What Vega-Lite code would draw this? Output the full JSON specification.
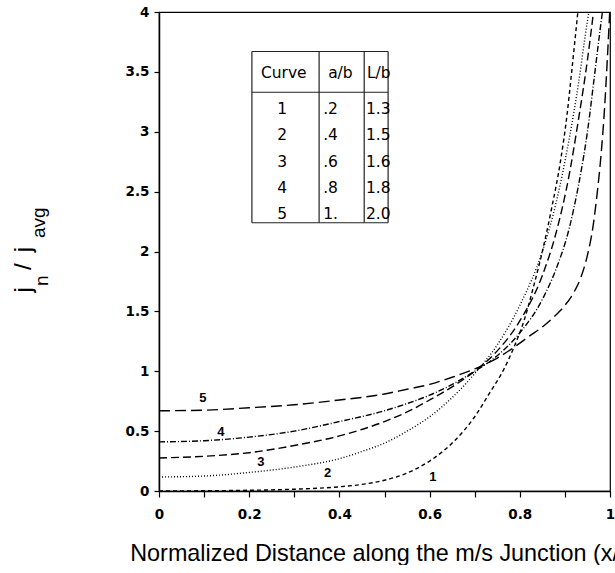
{
  "$schema": "https://vega.github.io/schema/vega-lite/v6.json",
  "width": 451,
  "height": 479,
  "autosize": {"type": "pad"},
  "padding": {"left": 11, "top": 5, "right": 0, "bottom": 0},
  "config": {
    "view": {"stroke": "black", "strokeWidth": 1.2},
    "font": "Liberation Sans"
  },
  "datasets": {
    "curves": [
      {"curve": "1", "x": 0, "y": 0.0}, {"curve": "1", "x": 0.1, "y": 0.002}, {"curve": "1", "x": 0.2, "y": 0.006}, {"curve": "1", "x": 0.3, "y": 0.015}, {"curve": "1", "x": 0.4, "y": 0.035}, {"curve": "1", "x": 0.45, "y": 0.055}, {"curve": "1", "x": 0.5, "y": 0.09}, {"curve": "1", "x": 0.55, "y": 0.15}, {"curve": "1", "x": 0.6, "y": 0.25}, {"curve": "1", "x": 0.65, "y": 0.4}, {"curve": "1", "x": 0.7, "y": 0.62}, {"curve": "1", "x": 0.73, "y": 0.8}, {"curve": "1", "x": 0.765, "y": 1.02}, {"curve": "1", "x": 0.787, "y": 1.2}, {"curve": "1", "x": 0.81, "y": 1.43}, {"curve": "1", "x": 0.83, "y": 1.7}, {"curve": "1", "x": 0.85, "y": 2.0}, {"curve": "1", "x": 0.87, "y": 2.35}, {"curve": "1", "x": 0.89, "y": 2.75}, {"curve": "1", "x": 0.905, "y": 3.15}, {"curve": "1", "x": 0.915, "y": 3.5}, {"curve": "1", "x": 0.93, "y": 4.05},
      {"curve": "2", "x": 0, "y": 0.117}, {"curve": "2", "x": 0.1, "y": 0.125}, {"curve": "2", "x": 0.2, "y": 0.155}, {"curve": "2", "x": 0.3, "y": 0.2}, {"curve": "2", "x": 0.4, "y": 0.27}, {"curve": "2", "x": 0.45, "y": 0.33}, {"curve": "2", "x": 0.5, "y": 0.4}, {"curve": "2", "x": 0.55, "y": 0.5}, {"curve": "2", "x": 0.6, "y": 0.62}, {"curve": "2", "x": 0.65, "y": 0.78}, {"curve": "2", "x": 0.7, "y": 0.98}, {"curve": "2", "x": 0.75, "y": 1.22}, {"curve": "2", "x": 0.8, "y": 1.55}, {"curve": "2", "x": 0.85, "y": 2.0}, {"curve": "2", "x": 0.88, "y": 2.4}, {"curve": "2", "x": 0.91, "y": 2.95}, {"curve": "2", "x": 0.93, "y": 3.4}, {"curve": "2", "x": 0.945, "y": 3.8}, {"curve": "2", "x": 0.955, "y": 4.05},
      {"curve": "3", "x": 0, "y": 0.276}, {"curve": "3", "x": 0.1, "y": 0.29}, {"curve": "3", "x": 0.2, "y": 0.32}, {"curve": "3", "x": 0.3, "y": 0.38}, {"curve": "3", "x": 0.4, "y": 0.46}, {"curve": "3", "x": 0.5, "y": 0.58}, {"curve": "3", "x": 0.55, "y": 0.66}, {"curve": "3", "x": 0.6, "y": 0.76}, {"curve": "3", "x": 0.65, "y": 0.87}, {"curve": "3", "x": 0.7, "y": 1.0}, {"curve": "3", "x": 0.75, "y": 1.17}, {"curve": "3", "x": 0.8, "y": 1.42}, {"curve": "3", "x": 0.85, "y": 1.8}, {"curve": "3", "x": 0.88, "y": 2.15}, {"curve": "3", "x": 0.91, "y": 2.65}, {"curve": "3", "x": 0.93, "y": 3.1}, {"curve": "3", "x": 0.95, "y": 3.6}, {"curve": "3", "x": 0.965, "y": 4.05},
      {"curve": "4", "x": 0, "y": 0.41}, {"curve": "4", "x": 0.1, "y": 0.42}, {"curve": "4", "x": 0.2, "y": 0.45}, {"curve": "4", "x": 0.3, "y": 0.5}, {"curve": "4", "x": 0.4, "y": 0.58}, {"curve": "4", "x": 0.5, "y": 0.67}, {"curve": "4", "x": 0.55, "y": 0.73}, {"curve": "4", "x": 0.6, "y": 0.8}, {"curve": "4", "x": 0.65, "y": 0.89}, {"curve": "4", "x": 0.7, "y": 1.0}, {"curve": "4", "x": 0.75, "y": 1.13}, {"curve": "4", "x": 0.8, "y": 1.32}, {"curve": "4", "x": 0.85, "y": 1.6}, {"curve": "4", "x": 0.88, "y": 1.85}, {"curve": "4", "x": 0.91, "y": 2.2}, {"curve": "4", "x": 0.93, "y": 2.55}, {"curve": "4", "x": 0.95, "y": 3.0}, {"curve": "4", "x": 0.965, "y": 3.45}, {"curve": "4", "x": 0.978, "y": 3.85}, {"curve": "4", "x": 0.985, "y": 4.05},
      {"curve": "5", "x": 0, "y": 0.67}, {"curve": "5", "x": 0.1, "y": 0.675}, {"curve": "5", "x": 0.2, "y": 0.695}, {"curve": "5", "x": 0.3, "y": 0.72}, {"curve": "5", "x": 0.4, "y": 0.76}, {"curve": "5", "x": 0.5, "y": 0.81}, {"curve": "5", "x": 0.55, "y": 0.85}, {"curve": "5", "x": 0.6, "y": 0.89}, {"curve": "5", "x": 0.65, "y": 0.95}, {"curve": "5", "x": 0.7, "y": 1.02}, {"curve": "5", "x": 0.75, "y": 1.11}, {"curve": "5", "x": 0.787, "y": 1.2}, {"curve": "5", "x": 0.82, "y": 1.29}, {"curve": "5", "x": 0.85, "y": 1.37}, {"curve": "5", "x": 0.88, "y": 1.47}, {"curve": "5", "x": 0.9, "y": 1.55}, {"curve": "5", "x": 0.92, "y": 1.66}, {"curve": "5", "x": 0.935, "y": 1.78}, {"curve": "5", "x": 0.95, "y": 1.97}, {"curve": "5", "x": 0.962, "y": 2.2}, {"curve": "5", "x": 0.972, "y": 2.5}, {"curve": "5", "x": 0.98, "y": 2.8}, {"curve": "5", "x": 0.988, "y": 3.2}, {"curve": "5", "x": 0.994, "y": 3.6}, {"curve": "5", "x": 1.0, "y": 4.05}
    ],
    "labels": [
      {"t": "1", "x": 0.607, "y": 0.12},
      {"t": "2", "x": 0.374, "y": 0.148},
      {"t": "3", "x": 0.226, "y": 0.245},
      {"t": "4", "x": 0.137, "y": 0.495},
      {"t": "5", "x": 0.097, "y": 0.774}
    ],
    "tableLines": [
      {"x": 0.206, "x2": 0.508, "y": 3.67, "y2": 3.67},
      {"x": 0.206, "x2": 0.508, "y": 3.33, "y2": 3.33},
      {"x": 0.206, "x2": 0.508, "y": 2.24, "y2": 2.24},
      {"x": 0.206, "x2": 0.206, "y": 2.24, "y2": 3.67},
      {"x": 0.355, "x2": 0.355, "y": 2.24, "y2": 3.67},
      {"x": 0.455, "x2": 0.455, "y": 2.24, "y2": 3.67},
      {"x": 0.508, "x2": 0.508, "y": 2.24, "y2": 3.67}
    ],
    "tableText": [
      {"t": "Curve", "x": 0.226, "y": 3.49},
      {"t": "a/b", "x": 0.375, "y": 3.49},
      {"t": "L/b", "x": 0.461, "y": 3.49},
      {"t": "1", "x": 0.262, "y": 3.19}, {"t": ".2", "x": 0.364, "y": 3.19}, {"t": "1.3", "x": 0.459, "y": 3.19},
      {"t": "2", "x": 0.262, "y": 2.97}, {"t": ".4", "x": 0.364, "y": 2.97}, {"t": "1.5", "x": 0.459, "y": 2.97},
      {"t": "3", "x": 0.262, "y": 2.75}, {"t": ".6", "x": 0.364, "y": 2.75}, {"t": "1.6", "x": 0.459, "y": 2.75},
      {"t": "4", "x": 0.262, "y": 2.53}, {"t": ".8", "x": 0.364, "y": 2.53}, {"t": "1.8", "x": 0.459, "y": 2.53},
      {"t": "5", "x": 0.262, "y": 2.31}, {"t": "1.", "x": 0.364, "y": 2.31}, {"t": "2.0", "x": 0.459, "y": 2.31}
    ],
    "ytitle": [
      {"t": "j", "part": "main", "x": -0.284, "y": 1.68},
      {"t": "n", "part": "sub", "x": -0.246, "y": 1.755},
      {"t": "/", "part": "main", "x": -0.284, "y": 1.874},
      {"t": "j", "part": "main", "x": -0.284, "y": 2.016},
      {"t": "avg", "part": "sub", "x": -0.253, "y": 2.241}
    ]
  },
  "layer": [
    {
      "data": {"name": "curves"},
      "mark": {"type": "line", "clip": true, "color": "black", "strokeWidth": 1.4, "interpolate": "monotone"},
      "encoding": {
        "x": {
          "field": "x", "type": "quantitative",
          "scale": {"domain": [0, 1], "nice": false, "zero": false},
          "axis": {
            "values": [0, 0.1, 0.2, 0.3, 0.4, 0.5, 0.6, 0.7, 0.8, 0.9, 1],
            "labelExpr": "round(datum.value*10)%2==0 ? format(datum.value,'~g') : ''",
            "grid": false, "tickSize": 6, "tickColor": "black", "tickWidth": 1.2,
            "domainColor": "black", "domainWidth": 1.5,
            "labelFont": "DejaVu Sans", "labelFontSize": 13.5, "labelFontWeight": "bold", "labelColor": "black",
            "labelPadding": 10, "labelFlush": false,
            "title": "Normalized Distance along the m/s Junction (x/b)",
            "titleFont": "Liberation Sans", "titleFontSize": 23.4, "titleFontWeight": "normal", "titleColor": "black",
            "titlePadding": 22
          }
        },
        "y": {
          "field": "y", "type": "quantitative",
          "scale": {"domain": [0, 4], "nice": false},
          "axis": {
            "values": [0, 0.5, 1, 1.5, 2, 2.5, 3, 3.5, 4],
            "format": "~g",
            "grid": false, "tickSize": 5, "tickColor": "black", "tickWidth": 1.2,
            "domainColor": "black", "domainWidth": 1.5,
            "labelFont": "DejaVu Sans", "labelFontSize": 13.5, "labelFontWeight": "bold", "labelColor": "black",
            "labelPadding": 5, "labelFlush": false,
            "title": null
          }
        },
        "detail": {"field": "curve", "type": "nominal"},
        "strokeDash": {
          "field": "curve", "type": "nominal",
          "scale": {"domain": ["1", "2", "3", "4", "5"], "range": [[4, 3], [1, 2], [8, 4], [6, 2, 1, 2], [11, 5]]},
          "legend": null
        }
      }
    },
    {
      "mark": {"type": "rule", "color": "#444", "strokeWidth": 1, "strokeDash": [1, 1.5]},
      "encoding": {
        "x": {"datum": 0, "type": "quantitative"},
        "x2": {"datum": 1},
        "y": {"datum": 1, "type": "quantitative"}
      }
    },
    {
      "data": {"name": "labels"},
      "mark": {"type": "text", "font": "Liberation Sans", "fontSize": 13, "fontWeight": "bold", "color": "black", "align": "center", "baseline": "middle"},
      "encoding": {
        "x": {"field": "x", "type": "quantitative"},
        "y": {"field": "y", "type": "quantitative"},
        "text": {"field": "t"}
      }
    },
    {
      "data": {"name": "tableLines"},
      "mark": {"type": "rule", "color": "#222", "strokeWidth": 1.2},
      "encoding": {
        "x": {"field": "x", "type": "quantitative"},
        "x2": {"field": "x2"},
        "y": {"field": "y", "type": "quantitative"},
        "y2": {"field": "y2"}
      }
    },
    {
      "data": {"name": "tableText"},
      "mark": {"type": "text", "font": "DejaVu Sans", "fontSize": 15.5, "color": "black", "align": "left", "baseline": "middle"},
      "encoding": {
        "x": {"field": "x", "type": "quantitative"},
        "y": {"field": "y", "type": "quantitative"},
        "text": {"field": "t"}
      }
    },
    {
      "data": {"name": "ytitle"},
      "transform": [{"filter": "datum.part == 'main'"}],
      "mark": {"type": "text", "angle": 270, "align": "center", "baseline": "alphabetic", "fontSize": 24, "font": "Liberation Sans", "color": "black"},
      "encoding": {
        "x": {"field": "x", "type": "quantitative"},
        "y": {"field": "y", "type": "quantitative"},
        "text": {"field": "t"}
      }
    },
    {
      "data": {"name": "ytitle"},
      "transform": [{"filter": "datum.part == 'sub'"}],
      "mark": {"type": "text", "angle": 270, "align": "center", "baseline": "alphabetic", "fontSize": 19, "font": "Liberation Sans", "color": "black"},
      "encoding": {
        "x": {"field": "x", "type": "quantitative"},
        "y": {"field": "y", "type": "quantitative"},
        "text": {"field": "t"}
      }
    }
  ]
}
